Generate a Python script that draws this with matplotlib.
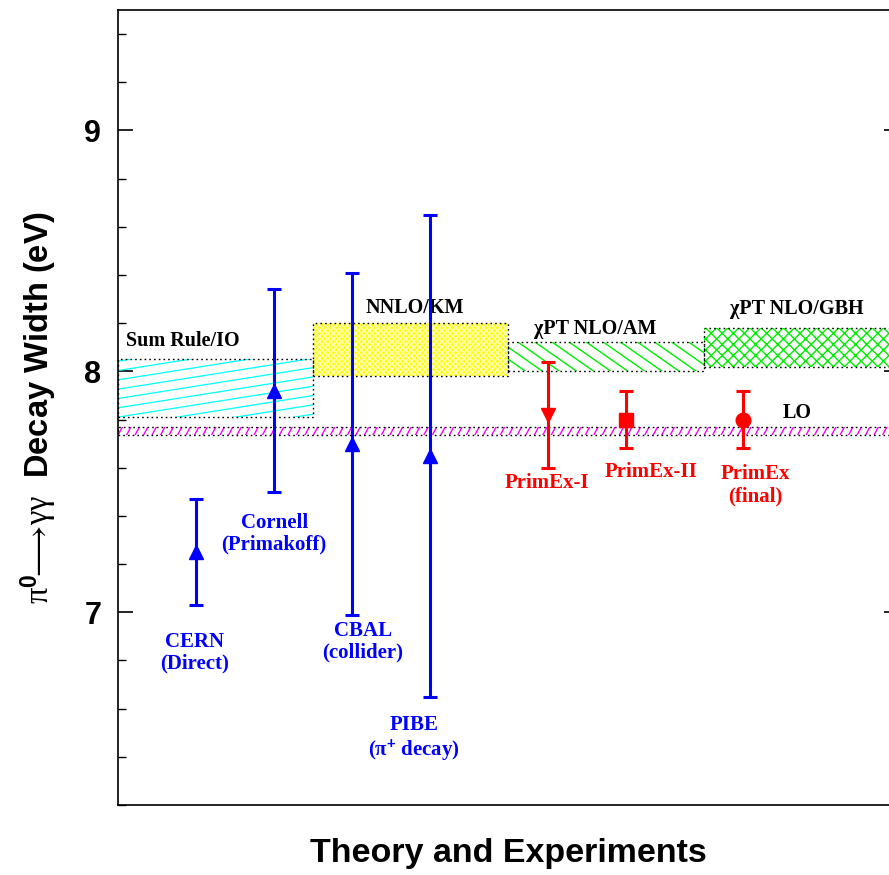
import numpy as np
import matplotlib
matplotlib.use("Agg")
import matplotlib.pyplot as plt
from matplotlib.patches import Rectangle
from matplotlib.collections import LineCollection
from matplotlib.ticker import MultipleLocator

plt.rcParams["mathtext.fontset"] = "custom"
plt.rcParams["mathtext.rm"] = "Liberation Serif"
plt.rcParams["mathtext.it"] = "Liberation Serif:italic"
plt.rcParams["mathtext.bf"] = "Liberation Sans:bold"
plt.rcParams["hatch.linewidth"] = 1.0

# ---- theory bands: name, x-span, central value, half width ----
band_names = ["Sum Rule/IO", "NNLO/KM", "χPT NLO/AM", "χPT NLO/GBH"]
band_x0 = [0.0, 1.0, 2.0, 3.0]
band_x1 = [1.0, 2.0, 3.0, 4.0]
band_val = [7.93, 8.09, 8.06, 8.10]
band_err = [0.12, 0.11, 0.06, 0.08]

lo_val = 7.752
lo_err = 0.017

# ---- experiments ----
exp_names = ["CERN\n(Direct)", "Cornell\n(Primakoff)", "CBAL\n(collider)",
             "PIBE\n(π$^{\\mathbf{+}}$ decay)", "PrimEx-I", "PrimEx-II", "PrimEx\n(final)"]
exp_x = [0.4, 0.8, 1.2, 1.6, 2.2, 2.6, 3.2]
exp_val = [7.25, 7.92, 7.70, 7.65, 7.82, 7.80, 7.80]
exp_err = [0.22, 0.42, 0.71, 1.00, 0.22, 0.12, 0.117]

SERIF = "Liberation Serif"
SANS = "Liberation Sans"

fig = plt.figure(figsize=(8.89, 8.75), dpi=100)
ax = fig.add_axes([118 / 889, 70 / 875, 781 / 889, 795 / 875])
ax.set_xlim(0, 4)
ax.set_ylim(6.2, 9.5)

pos = ax.get_position()
sx = fig.get_figwidth() * fig.dpi * pos.width / 4.0    # px per x unit
sy = fig.get_figheight() * fig.dpi * pos.height / 3.3  # px per y unit


def hatch_lines(rect, x0, x1, y0, y1, angle, spacing, color, lw=1.0):
    """Parallel lines at `angle` (deg, pixel space) clipped to a rectangle."""
    W = (x1 - x0) * sx
    H = (y1 - y0) * sy
    th = np.radians(angle)
    u = np.array([np.cos(th), np.sin(th)])
    n = np.array([-np.sin(th), np.cos(th)])
    corners = np.array([[0, 0], [W, 0], [0, H], [W, H]])
    proj = corners @ n
    L = W + H
    segs = []
    for s in np.arange(np.floor(proj.min() / spacing) * spacing, proj.max() + spacing, spacing):
        p = s * n
        a = p - L * u
        b = p + L * u
        segs.append([(x0 + a[0] / sx, y0 + a[1] / sy), (x0 + b[0] / sx, y0 + b[1] / sy)])
    lc = LineCollection(segs, colors=color, linewidths=lw, zorder=2)
    ax.add_collection(lc)
    lc.set_clip_path(rect)


def band_frame(x0, x1, y0, y1):
    ax.add_patch(Rectangle((x0, y0), x1 - x0, y1 - y0, fill=False, edgecolor="black",
                           linewidth=1.0, linestyle=(0, (1.2, 2.2)), zorder=3,
                           clip_on=False))


# Sum Rule/IO: cyan shallow hatch
i = 0
y0, y1 = band_val[i] - band_err[i], band_val[i] + band_err[i]
r = Rectangle((band_x0[i], y0), band_x1[i] - band_x0[i], y1 - y0, fill=False, linewidth=0)
ax.add_patch(r)
hatch_lines(r, band_x0[i], band_x1[i], y0, y1, 9, 9.2, "#00ffff", 0.9)
band_frame(band_x0[i], band_x1[i], y0, y1)

# NNLO/KM: yellow dense cross-hatch
i = 1
y0, y1 = band_val[i] - band_err[i], band_val[i] + band_err[i]
ax.add_patch(Rectangle((band_x0[i], y0), band_x1[i] - band_x0[i], y1 - y0,
                       facecolor="#ffff00", edgecolor="#ffffb8", hatch="xxxxxx",
                       linewidth=0, zorder=1))
band_frame(band_x0[i], band_x1[i], y0, y1)

# chiPT NLO/AM: green back-slash hatch
i = 2
y0, y1 = band_val[i] - band_err[i], band_val[i] + band_err[i]
r = Rectangle((band_x0[i], y0), band_x1[i] - band_x0[i], y1 - y0, fill=False, linewidth=0)
ax.add_patch(r)
hatch_lines(r, band_x0[i], band_x1[i], y0, y1, -35, 9.8, "#00ee00", 1.0)
band_frame(band_x0[i], band_x1[i], y0, y1)

# chiPT NLO/GBH: green cross-hatch
i = 3
y0, y1 = band_val[i] - band_err[i], band_val[i] + band_err[i]
ax.add_patch(Rectangle((band_x0[i], y0), band_x1[i] - band_x0[i], y1 - y0,
                       facecolor="white", edgecolor="#00ee00", hatch="xxx",
                       linewidth=0, zorder=1))
band_frame(band_x0[i], band_x1[i], y0, y1)

# LO band: magenta short slashes
y0, y1 = lo_val - lo_err, lo_val + lo_err
r = Rectangle((0, y0), 4, y1 - y0, fill=False, linewidth=0)
ax.add_patch(r)
hatch_lines(r, 0, 4, y0, y1, 62, 7.5, "#ff00ff", 1.0)
band_frame(0, 4, y0, y1)

# band captions
band_lx = [0.041, 1.518, 2.443, 3.478]
band_ly = [8.124, 8.261, 8.174, 8.257]
band_ha = ["left", "center", "center", "center"]
for name, lx, ly, ha in zip(band_names, band_lx, band_ly, band_ha):
    ax.text(lx, ly, name, ha=ha, va="center", fontsize=14.5, fontweight="bold",
            family=SERIF, color="black", zorder=5)
ax.text(3.48, 7.826, "LO", ha="center", va="center", fontsize=14.5,
        fontweight="bold", family=SERIF, color="black", zorder=5)

# experimental points
exp_color = ["#0000ff"] * 4 + ["#ff0000"] * 3
exp_marker = ["^", "^", "^", "^", "v", "s", "o"]
exp_ms = [10.5, 10.5, 10.5, 10.5, 10.5, 9.5, 10.5]
for x, v, e, c, m, ms in zip(exp_x, exp_val, exp_err, exp_color, exp_marker, exp_ms):
    ax.errorbar([x], [v], yerr=[e], fmt=m, color=c, ms=ms, capsize=5.3,
                elinewidth=2.2, capthick=2.2, zorder=6)

exp_lx = [0.392, 0.80, 1.255, 1.516, 2.195, 2.73, 3.262]
exp_ly = [6.832, 7.326, 6.878, 6.473, 7.535, 7.581, 7.527]
for name, lx, ly, c in zip(exp_names, exp_lx, exp_ly, exp_color):
    ax.text(lx, ly, name, ha="center", va="center", multialignment="center",
            fontsize=15, fontweight="bold", family=SERIF, color=c,
            linespacing=1.15, zorder=7)

# axes styling
for sp in ax.spines.values():
    sp.set_linewidth(1.2)
ax.set_xticks([])
ax.set_yticks([7, 8, 9])
ax.yaxis.set_minor_locator(MultipleLocator(0.2))
ax.tick_params(axis="y", which="major", direction="in", length=10.8, width=1.2,
               left=True, right=True, pad=12)
ax.tick_params(axis="y", which="minor", direction="in", length=5.8, width=1.0,
               left=True, right=True)
for lab in ax.get_yticklabels():
    lab.set_fontsize(22)
    lab.set_fontweight("bold")
    lab.set_family(SANS)

ax.set_ylabel(r"$\mathrm{π}^{\mathbf{0}}\!\!\longrightarrow\!\mathrm{γγ}$  Decay Width (eV)",
              fontsize=23.5, fontweight="bold", family=SANS, labelpad=18)
ax.set_xlabel("Theory and Experiments", fontsize=24.5, fontweight="bold",
              family=SANS, labelpad=24)

fig.savefig("out.png", dpi=100)
